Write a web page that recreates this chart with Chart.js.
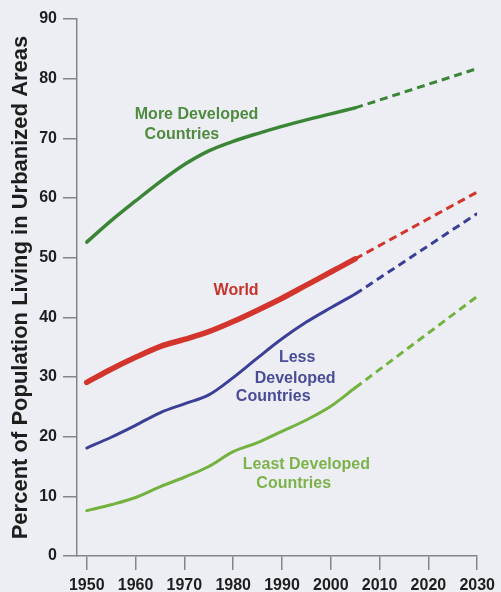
<!DOCTYPE html>
<html>
<head>
<meta charset="utf-8">
<script src="https://cdn.jsdelivr.net/npm/chart.js@4"></script>
<style>
  html, body { margin: 0; padding: 0; background: #eceef3; }
  #wrap { width: 501px; height: 592px; position: relative; }
</style>
</head>
<body>
<div id="wrap"><canvas id="c" width="501" height="592"></canvas></div>
<script>
// ---- data ----
const years = [1950, 1955, 1960, 1965, 1970, 1975, 1980, 1985, 1990, 1995, 2000, 2005];
const projYears = [2005, 2030];
const moreDeveloped  = [52.6, 56.2, 59.5, 62.7, 65.6, 67.9, 69.5, 70.8, 72.0, 73.1, 74.1, 75.1];
const moreDevProj    = [75.1, 81.7];
const world          = [29.1, 31.3, 33.3, 35.1, 36.3, 37.6, 39.3, 41.2, 43.2, 45.4, 47.6, 49.8];
const worldProj      = [49.8, 61.0];
const lessDeveloped  = [18.1, 19.9, 21.9, 24.0, 25.5, 27.0, 29.9, 33.2, 36.4, 39.2, 41.6, 43.9];
const lessDevProj    = [43.9, 57.4];
const leastDeveloped = [7.6, 8.6, 9.8, 11.6, 13.2, 15.0, 17.5, 19.0, 20.9, 22.8, 25.1, 28.2];
const leastDevProj   = [28.2, 43.5];
const xTicks = [1950, 1960, 1970, 1980, 1990, 2000, 2010, 2020, 2030];
const yTitle = 'Percent of Population Living in Urbanized Areas';

// series labels placed in data units
const labelTexts = ['More Developed', 'Countries', 'World', 'Less', 'Developed', 'Countries', 'Least Developed', 'Countries'];
const labelYears = [1972.5, 1969.5, 1980.6, 1993.1, 1992.7, 1988.2, 1995.0, 1992.4];
const labelVals  = [73.9, 70.7, 44.4, 33.2, 29.8, 26.7, 15.4, 12.2];
const labelCols  = ['#4f8b3f', '#4f8b3f', '#c5332b', '#4b4c98', '#4b4c98', '#4b4c98', '#7db24b', '#7db24b'];

const C_MORE = '#3b8636', C_WORLD = '#d3342c', C_LESS = '#3c3f98', C_LEAST = '#74b23f';

function pts(xs, ys) { return xs.map((x, i) => ({ x: x, y: ys[i] })); }

function solid(data, color, w) {
  return { data: data, borderColor: color, borderWidth: w, pointRadius: 0, fill: false,
           cubicInterpolationMode: 'monotone', borderCapStyle: 'round' };
}
function dashed(data, color, w) {
  return { data: data, borderColor: color, borderWidth: w, pointRadius: 0, fill: false,
           borderDash: [8, 5], tension: 0 };
}

const labelPlugin = {
  id: 'seriesLabels',
  afterDatasetsDraw(chart) {
    const ctx = chart.ctx, sx = chart.scales.x, sy = chart.scales.y;
    ctx.save();
    ctx.font = 'bold 16px "Liberation Sans", Arial, sans-serif';
    ctx.textAlign = 'center';
    ctx.textBaseline = 'middle';
    labelTexts.forEach((t, i) => {
      ctx.fillStyle = labelCols[i];
      ctx.fillText(t, sx.getPixelForValue(labelYears[i]), sy.getPixelForValue(labelVals[i]));
    });
    ctx.restore();
  }
};

const axisGrid = { display: true, drawOnChartArea: false, drawTicks: true, tickLength: 14, color: '#858585', lineWidth: 1.5 };
const axisBorder = { display: true, color: '#858585', width: 1.5 };
const tickFont = { family: '"Liberation Sans", Arial, sans-serif', size: 16, weight: 'bold' };

new Chart(document.getElementById('c'), {
  type: 'line',
  data: {
    datasets: [
      solid(pts(years, moreDeveloped), C_MORE, 3.5),
      dashed(pts(projYears, moreDevProj), C_MORE, 3),
      solid(pts(years, world), C_WORLD, 5.5),
      dashed(pts(projYears, worldProj), C_WORLD, 3),
      solid(pts(years, lessDeveloped), C_LESS, 3),
      dashed(pts(projYears, lessDevProj), C_LESS, 3),
      solid(pts(years, leastDeveloped), C_LEAST, 3),
      dashed(pts(projYears, leastDevProj), C_LEAST, 3)
    ]
  },
  options: {
    responsive: false,
    animation: false,
    layout: { padding: { top: 19, right: 19, bottom: 0, left: 0 } },
    plugins: { legend: { display: false }, tooltip: { enabled: false } },
    scales: {
      x: {
        type: 'linear', min: 1948, max: 2030,
        afterBuildTicks: (s) => { s.ticks = xTicks.map(v => ({ value: v })); },
        afterFit: (s) => { s.height = 36; },
        grid: axisGrid, border: axisBorder,
        ticks: { color: '#1e1e1e', font: tickFont, padding: 6, maxRotation: 0, autoSkip: false,
                 callback: (v) => String(v) }
      },
      y: {
        min: 0, max: 90,
        afterFit: (s) => { s.width = 77; },
        grid: axisGrid, border: axisBorder,
        ticks: { stepSize: 10, color: '#1e1e1e', font: tickFont, padding: 6 },
        title: { display: true, text: yTitle, color: '#1e1e1e',
                 font: { family: '"Liberation Sans", Arial, sans-serif', size: 22, weight: 'bold', lineHeight: 1.2 },
                 padding: { top: 8, bottom: 0 } }
      }
    }
  },
  plugins: [labelPlugin]
});
</script>
</body>
</html>
